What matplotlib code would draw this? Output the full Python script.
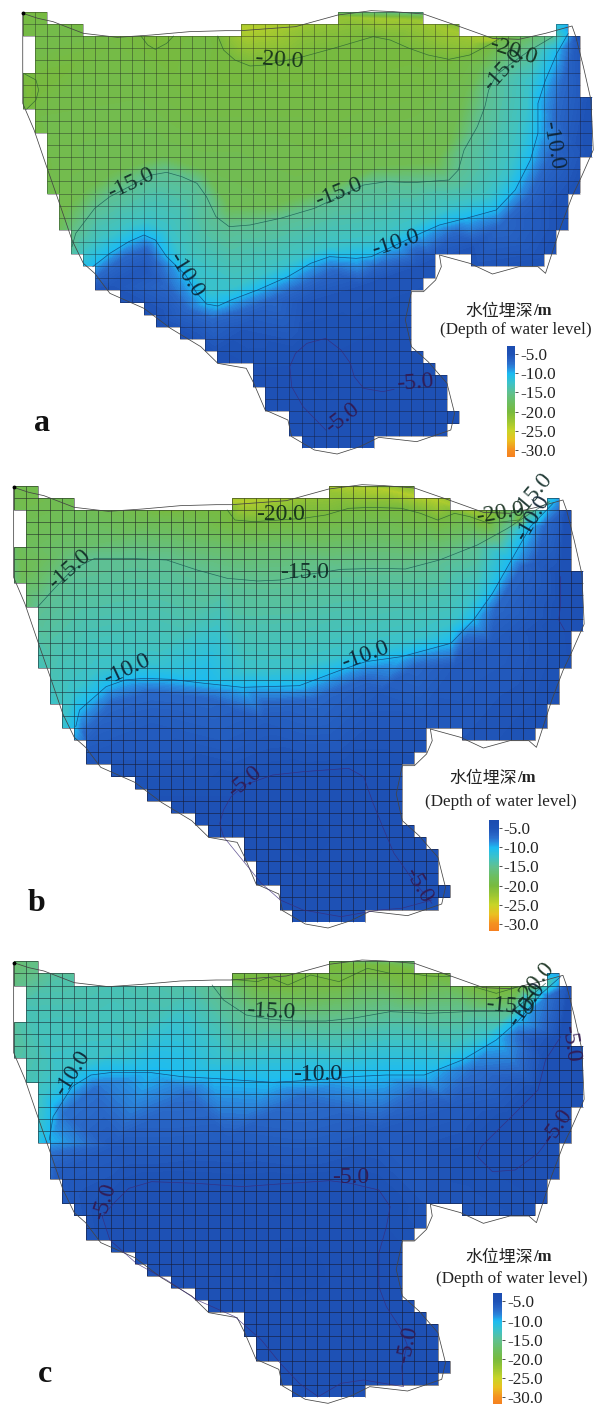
import numpy as np
import matplotlib
matplotlib.use('Agg')
import matplotlib.pyplot as plt
from matplotlib.collections import LineCollection
from matplotlib.colors import LinearSegmentedColormap, Normalize
from matplotlib.cm import ScalarMappable
from matplotlib.path import Path
from matplotlib.patches import PathPatch

SERIF = 'Liberation Serif'

# colour scale of depth
SCALE_VALUES = [-32, -30, -27.5, -25, -22.5, -20, -17.5, -15, -12.5, -10, -8.5, -7, -5, -3]
SCALE_COLORS = ['#f57f20', '#f59020', '#eac020', '#c8d428', '#9cc632', '#78ba3e', '#6cbe62',
                '#60c090', '#3cc2c8', '#1cbcf2', '#2a8ade', '#2a68c8', '#1e52b6', '#1c4cb0']
BAR_TICKS = [-5, -10, -15, -20, -25, -30]
BAR_LABELS = ['-5.0', '-10.0', '-15.0', '-20.0', '-25.0', '-30.0']

# model cells: (first column, end column) per row
ROW_SPANS = [[(0, 2), (26, 33)], [(0, 5), (18, 36), (44, 45)], [(1, 46)], [(1, 46)], [(1, 46)],
             [(0, 46)], [(0, 46)], [(0, 47)], [(1, 47)], [(1, 47)], [(2, 47)], [(2, 47)],
             [(2, 46)], [(2, 46)], [(2, 46)], [(3, 45)], [(3, 45)], [(3, 45)], [(4, 44)], [(4, 44)],
             [(5, 34), (37, 43)], [(6, 34)], [(6, 33)], [(8, 32)], [(10, 32)], [(11, 32)],
             [(13, 32)], [(15, 32)], [(16, 33)], [(19, 34)], [(19, 35)], [(20, 35)], [(20, 35)],
             [(22, 36)], [(22, 35)], [(23, 29)]]

# basin outline
OUTLINE = [(60, 40), (100, 55), (140, 65), (220, 100), (310, 112), (400, 105), (500, 95), (595, 92),
           (636, 92), (780, 80), (892, 45), (980, 32), (1040, 35), (1118, 42), (1214, 80), (1300, 115),
           (1370, 118), (1440, 100), (1510, 78), (1520, 110), (1540, 200), (1560, 300), (1566, 450),
           (1535, 530), (1510, 590), (1480, 680), (1440, 820), (1420, 800), (1370, 800), (1300, 822),
           (1240, 790), (1160, 765), (1165, 800), (1150, 840), (1118, 875), (1086, 875), (1070, 960),
           (1086, 1040), (1130, 1085), (1180, 1150), (1200, 1240), (1190, 1290), (1100, 1325),
           (1000, 1312), (950, 1340), (890, 1362), (830, 1350), (770, 1310), (760, 1260), (700, 1230),
           (670, 1150), (650, 1105), (575, 1090), (530, 1040), (450, 985), (380, 925), (290, 880),
           (250, 820), (220, 790), (190, 720), (160, 620), (120, 490), (90, 390), (60, 310), (60, 220)]

# panel a: contours
A_CONTOURS = [
    (-20, [(575, 108), (590, 150), (620, 180), (660, 198), (700, 195), (800, 170), (880, 145), (940, 125),
           (985, 110), (1030, 120), (1080, 145), (1130, 165), (1185, 178), (1240, 165), (1290, 135), (1320, 115)]),
    (-20, [(372, 108), (390, 135), (410, 148), (440, 130), (458, 108)]),
    (-20, [(62, 220), (95, 240), (102, 270), (95, 300), (70, 328)]),
    (-15, [(190, 740), (200, 700), (250, 625), (290, 590), (400, 525), (440, 517), (480, 530), (520, 550),
           (545, 590), (570, 650), (605, 680), (660, 675), (740, 655), (830, 625), (895, 590), (960, 555),
           (1020, 545), (1090, 548), (1185, 540), (1210, 510), (1225, 450), (1260, 380), (1280, 320),
           (1290, 270), (1310, 225), (1350, 190), (1400, 150), (1460, 110)]),
    (-10, [(245, 800), (290, 760), (340, 725), (380, 705), (410, 720), (440, 770), (490, 825), (520, 880),
           (545, 912), (575, 918), (610, 900), (680, 870), (760, 830), (820, 790), (870, 770), (940, 775),
           (980, 770), (1045, 735), (1110, 700), (1160, 675), (1230, 655), (1310, 630), (1360, 570),
           (1400, 480), (1420, 400), (1420, 310), (1440, 240), (1470, 160), (1500, 100)]),
    (-5, [(1040, 1168), (1010, 1175), (960, 1165), (935, 1130), (925, 1090), (900, 1050), (860, 1015), (810, 1030),
          (780, 1060), (765, 1100), (770, 1160), (800, 1220), (860, 1290)]),
]
# panel a: unlabelled depths that shape the colour field
A_GUIDES = [
    (-7, [(260, 830), (330, 775), (385, 750), (410, 790), (440, 860), (490, 930), (560, 960), (640, 935),
          (720, 900), (800, 860), (880, 815), (1000, 800), (1100, 750), (1200, 700), (1320, 680), (1400, 590),
          (1450, 480), (1470, 350), (1490, 240), (1510, 130)]),
    (-5.5, [(300, 860), (380, 810), (430, 930), (520, 1000), (640, 990), (800, 910), (950, 860), (1100, 800),
            (1250, 740), (1450, 620), (1520, 430), (1540, 300), (1530, 120)]),
    (-12.5, [(225, 760), (270, 720), (340, 680), (390, 665), (440, 690), (490, 780), (555, 870), (620, 860),
             (720, 810), (800, 770), (870, 740), (1000, 720), (1100, 670), (1200, 620), (1290, 590), (1340, 520),
             (1370, 430), (1390, 330), (1400, 240), (1450, 140)]),
    (-18.5, [(160, 660), (230, 570), (300, 520), (430, 470), (540, 510), (610, 620), (740, 610), (850, 570),
             (1000, 500), (1150, 490), (1190, 420), (1230, 280), (1270, 200), (1320, 130)]),
]
A_SPOTS = [(650, 85, -24), (700, 90, -23.5), (800, 100, -21.5), (900, 50, -22), (1000, 55, -23), (1100, 60, -22.5),
           (1190, 90, -23), (1250, 130, -22), (1310, 118, -23.5), (90, 60, -19.5), (200, 100, -19), (300, 130, -19.5),
           (400, 125, -20.5), (530, 125, -19.5), (70, 270, -20.5), (110, 150, -19), (110, 350, -19), (140, 500, -19),
           (170, 630, -19), (500, 300, -19.5), (900, 300, -19.5), (1100, 350, -19), (1470, 85, -12), (1500, 88, -9),
           (1530, 115, -4.5), (1560, 310, -5), (1560, 450, -5), (1530, 570, -4.8), (1495, 680, -5), (1440, 790, -5),
           (1260, 790, -5.5), (1140, 780, -5.5), (1090, 1000, -4.8), (1200, 1260, -4.8), (800, 1340, -4.8),
           (260, 865, -5.5), (420, 970, -5), (570, 1080, -4.8), (680, 1150, -4.8), (1000, 1150, -4.5), (850, 1150, -4.2),
           (30, 20, -20), (1568, 20, -5), (1568, 1360, -5), (30, 1360, -5)]
A_LABELS = [('-20.0', 735, 180, -4), ('-15.0', 345, 550, 25), ('-15.0', 895, 578, 22), ('-20.0', 1355, 155, -18),
            ('-15.0', 1330, 210, 48), ('-10.0', 1460, 435, -80), ('-10.0', 490, 825, -58), ('-10.0', 1045, 730, 18),
            ('-5.0', 1095, 1150, 5), ('-5.0', 905, 1255, 38)]

# panel b
B_CONTOURS = [
    (-20, [(600, 120), (620, 150), (670, 155), (740, 150), (800, 145), (860, 135), (920, 115), (980, 112),
           (1060, 115), (1110, 130), (1155, 150), (1200, 130), (1240, 140), (1290, 160), (1370, 150), (1400, 110)]),
    (-15, [(100, 410), (140, 360), (190, 300), (250, 265), (340, 265), (440, 270), (520, 300), (600, 325), (680, 333),
           (740, 330), (805, 315), (900, 298), (1000, 295), (1070, 297), (1160, 270), (1260, 225), (1340, 175),
           (1400, 130), (1450, 95)]),
    (-10, [(200, 770), (210, 720), (280, 650), (330, 630), (380, 625), (450, 628), (540, 640), (640, 652), (790, 647),
           (900, 600), (965, 575), (1060, 560), (1190, 520), (1250, 450), (1300, 370), (1350, 270), (1400, 170), (1460, 100)]),
    (-5, [(1140, 1300), (1090, 1230), (1040, 1150), (1010, 1070), (985, 1000), (960, 920), (920, 895), (800, 905), (720, 915),
          (645, 945), (610, 980), (590, 1020), (580, 1060), (590, 1100), (640, 1170), (690, 1240), (740, 1290),
          (800, 1320), (900, 1340), (1000, 1320), (1060, 1315), (1140, 1290)]),
    (-5, [(1480, 320), (1480, 400), (1475, 450), (1490, 480)]),
]
B_GUIDES = [
    (-7, [(225, 790), (300, 700), (400, 670), (540, 685), (700, 700), (830, 690), (960, 630), (1100, 590), (1230, 510),
          (1310, 420), (1380, 290), (1440, 170)]),
    (-6, [(240, 830), (400, 760), (700, 760), (1000, 670), (1200, 590), (1300, 520), (1420, 280), (1480, 140)]),
    (-12.5, [(170, 750), (195, 660), (260, 600), (400, 575), (650, 600), (800, 590), (950, 540), (1100, 505), (1190, 460),
             (1260, 370), (1330, 240), (1390, 150)]),
    (-17, [(100, 340), (170, 240), (300, 215), (450, 210), (620, 240), (750, 230), (1000, 220), (1250, 190), (1360, 120)]),
]
B_SPOTS = [(640, 95, -24), (1000, 55, -24), (880, 70, -22), (1150, 90, -24), (780, 110, -21), (1280, 140, -22),
           (60, 80, -19), (180, 110, -18.5), (400, 135, -19), (60, 300, -18.5), (60, 240, -18), (1450, 90, -11),
           (1500, 130, -4.5), (1530, 400, -5), (1500, 580, -5), (1440, 770, -5), (1230, 800, -5.5), (1120, 780, -5.5),
           (1060, 1000, -4.8), (1180, 1260, -4.8), (800, 1345, -4.8), (235, 870, -5.5), (400, 980, -5), (550, 1090, -4.8),
           (800, 1100, -4.3), (30, 20, -19), (1568, 20, -5), (1568, 1370, -5), (30, 1370, -5)]
B_LABELS = [('-20.0', 740, 135, 0), ('-20.0', 1320, 130, 10), ('-15.0', 1405, 75, 50), ('-10.0', 1405, 145, 60),
            ('-15.0', 185, 300, 42), ('-15.0', 805, 308, 0), ('-10.0', 335, 600, 25), ('-10.0', 965, 555, 20),
            ('-5.0', 645, 935, 40), ('-5.0', 1105, 1245, -60)]

# panel c
C_CONTOURS = [
    (-20, [(612, 118), (680, 125), (710, 112), (760, 135), (820, 105), (895, 125), (970, 85), (1030, 100), (1080, 100),
           (1130, 108), (1190, 110)]),
    (-20, [(1250, 140), (1310, 160), (1370, 140)]),
    (-15, [(560, 135), (590, 180), (650, 225), (715, 238), (780, 243), (860, 243), (930, 235), (1030, 215), (1130, 220),
           (1230, 215), (1350, 215), (1400, 170), (1440, 130)]),
    (-10, [(130, 600), (140, 530), (190, 440), (240, 405), (290, 398), (400, 398), (480, 410), (560, 415), (720, 427),
           (835, 420), (930, 410), (1020, 405), (1120, 405), (1220, 360), (1310, 300), (1370, 240), (1430, 160), (1480, 110)]),
    (-5, [(270, 830), (300, 790), (340, 745), (400, 725), (520, 730), (640, 740), (760, 730), (870, 722), (925, 730),
          (1000, 750), (1030, 800), (1020, 860), (1000, 940), (1000, 1040), (1020, 1100), (1060, 1170), (1075, 1215),
          (1060, 1280), (1065, 1340), (960, 1320), (900, 1330), (840, 1370), (790, 1330), (740, 1270), (690, 1200),
          (620, 1130), (520, 1080), (440, 1020), (360, 970), (290, 900), (270, 830)]),
    (-5, [(1480, 290), (1440, 360), (1420, 450), (1350, 530), (1270, 620), (1260, 650), (1300, 695), (1360, 690),
          (1420, 640), (1460, 580)]),
]
C_GUIDES = [
    (-7.5, [(135, 640), (170, 520), (250, 445), (500, 460), (800, 470), (1100, 450), (1250, 390), (1370, 280), (1450, 170)]),
    (-6, [(150, 700), (300, 620), (600, 600), (1000, 570), (1200, 500), (1400, 300), (1490, 150)]),
    (-12.5, [(100, 560), (110, 470), (160, 390), (300, 340), (600, 350), (900, 340), (1200, 320), (1290, 280), (1390, 170)]),
]
C_SPOTS = [(36, 300, -14.5), (36, 70, -17), (150, 120, -14), (300, 135, -13.5), (500, 140, -14), (70, 200, -13.5),
           (70, 420, -13.5), (612, 135, -17), (900, 100, -19), (1000, 75, -20), (1150, 120, -19), (1300, 150, -20),
           (800, 180, -18), (1100, 170, -18), (1440, 110, -10.5), (1475, 105, -9.5), (1510, 140, -4.5), (1540, 400, -5),
           (1510, 600, -5), (1440, 790, -5), (1220, 825, -5.5), (1125, 800, -5.5), (1060, 1000, -4.8), (1190, 1290, -4.8),
           (800, 1370, -4.8), (230, 890, -5.5), (400, 1000, -5), (550, 1110, -4.8), (800, 1000, -4.3),
           (30, 30, -17), (1568, 30, -5), (1568, 1395, -5), (30, 1395, -5)]
C_LABELS = [('-15.0', 715, 215, -3), ('-15.0', 1345, 200, -5), ('-10.0', 1390, 195, 55), ('-20.0', 1410, 130, 50),
            ('-10.0', 190, 400, 58), ('-10.0', 838, 405, 0), ('-5.0', 925, 712, 0), ('-5.0', 275, 785, 72),
            ('-5.0', 1075, 1215, 78), ('-5.0', 1505, 310, -82), ('-5.0', 1470, 560, 55)]

CONTOUR_COLORS = {-5: '#3a2a78', -10: '#0f3a6c', -15: '#17554c', -20: '#2a6030'}
LABEL_COLORS = {'-5.0': '#33184e', '-10.0': '#0c2030', '-15.0': '#0e2a24', '-20.0': '#102a18'}

cell_w, cell_h = 32.0, 36.3
cmap = LinearSegmentedColormap.from_list(
    'depth', [((v + 32) / 29.0, c) for v, c in zip(SCALE_VALUES, SCALE_COLORS)])
norm = Normalize(-32, -3)


def cell_clip(ax, x0, y0):
    verts, codes = [], []
    for r, spans in enumerate(ROW_SPANS):
        for c0, c1 in spans:
            xa, xb = x0 + c0 * cell_w, x0 + c1 * cell_w
            ya, yb = y0 + r * cell_h, y0 + (r + 1) * cell_h + 0.5
            verts += [(xa, ya), (xb, ya), (xb, yb), (xa, yb), (xa, ya)]
            codes += [Path.MOVETO, Path.LINETO, Path.LINETO, Path.LINETO, Path.CLOSEPOLY]
    patch = PathPatch(Path(verts, codes), facecolor='none', edgecolor='none')
    ax.add_patch(patch)
    return patch


def grid_segments(x0, y0):
    have = np.zeros((len(ROW_SPANS) + 2, 49), dtype=bool)
    for r, spans in enumerate(ROW_SPANS):
        for c0, c1 in spans:
            have[r + 1, c0 + 1:c1 + 1] = True
    segs = []
    for r in range(have.shape[0] - 1):
        for c in range(have.shape[1] - 1):
            xa, ya = x0 + (c - 1) * cell_w, y0 + (r - 1) * cell_h
            if have[r, c] or have[r - 1, c]:
                segs.append([(xa, ya), (xa + cell_w, ya)])
            if have[r, c] or have[r, c - 1]:
                segs.append([(xa, ya), (xa, ya + cell_h)])
    return segs


def draw_panel(top, height, origin, contours, guides, spots, labels, letter, letter_pos, bar, grid_alpha):
    ax = fig.add_axes([0, 1 - (top + height) / 1407.0, 1, height / 1407.0])
    ax.set_xlim(0, 1568)
    ax.set_ylim(height * 3, 0)
    ax.axis('off')
    x0, y0 = origin

    xs, ys, vs = [], [], []
    for level, pts in contours + guides:
        for x, y in pts:
            xs.append(x)
            ys.append(y)
            vs.append(level)
    for x, y, v in spots:
        xs.append(x)
        ys.append(y)
        vs.append(v)
    # drop repeats (closed contours), triangulation does not like them
    uniq = {}
    for x, y, v in zip(xs, ys, vs):
        uniq[(x, y)] = v
    xs = np.array([k[0] for k in uniq], dtype=float)
    ys = np.array([k[1] for k in uniq], dtype=float)
    vs = np.array(list(uniq.values()), dtype=float)

    clip = cell_clip(ax, x0, y0)
    cs = ax.tricontourf(xs, ys, vs, levels=np.linspace(-32, -3, 117), cmap=cmap, norm=norm, antialiased=False)
    cs.set_clip_path(clip)

    ax.add_collection(LineCollection(grid_segments(x0, y0), colors='#14101c', linewidths=0.6, alpha=grid_alpha))

    dx, dy = x0 - 60, y0 - 36
    ox = [p[0] + dx for p in OUTLINE] + [OUTLINE[0][0] + dx]
    oy = [p[1] + dy for p in OUTLINE] + [OUTLINE[0][1] + dy]
    ax.plot(ox, oy, color='#444444', lw=0.55)
    ax.plot([ox[0]], [oy[0]], 'o', color='k', ms=1.8)

    for level, pts in contours:
        ax.plot([p[0] for p in pts], [p[1] for p in pts], color=CONTOUR_COLORS[level], lw=0.5, alpha=0.8)
    for txt, x, y, rot in labels:
        ax.text(x, y, txt, rotation=rot, rotation_mode='anchor', ha='center', va='center',
                family=SERIF, fontsize=17, color=LABEL_COLORS[txt], alpha=0.9)

    ax.text(letter_pos[0], letter_pos[1], letter, family=SERIF, fontweight='bold', fontsize=23,
            ha='center', va='center', color='#111111')

    # legend
    bx0, bx1, by0, by1, tx, ty, sx, sy = bar
    ax.text(tx, ty, '/m', family=SERIF, fontweight='bold', fontsize=12, ha='left', va='center', color='#222222')
    ax.text(tx, ty, '水位埋深', family='Noto Sans CJK SC', fontsize=12.2, ha='right', va='center', color='#222222')
    ax.text(sx, sy, '(Depth of water level)', family=SERIF, fontsize=12.3, ha='center', va='center', color='#222222')
    pos = ax.get_position()
    h_frac = pos.height / (height * 3)
    cax = fig.add_axes([bx0 / 1568.0, pos.y1 - by1 * h_frac, (bx1 - bx0) / 1568.0, (by1 - by0) * h_frac])
    cb = fig.colorbar(ScalarMappable(norm=Normalize(-31.7, -2.9), cmap=LinearSegmentedColormap.from_list(
        'bar', cmap(np.linspace((-31.7 + 32) / 29, (-2.9 + 32) / 29.0, 256)))), cax=cax)
    cb.outline.set_visible(False)
    cb.set_ticks(BAR_TICKS, labels=BAR_LABELS)
    cb.ax.tick_params(length=2, width=0.6, pad=1.5, color='#333333')
    for t in cb.ax.get_yticklabels():
        t.set_fontfamily(SERIF)
        t.set_fontsize(12.3)
        t.set_color('#222222')


fig = plt.figure(figsize=(5.94, 14.07), dpi=100, facecolor='w')
draw_panel(0, 470, (60, 36), A_CONTOURS, A_GUIDES, A_SPOTS, A_LABELS, 'a', (110, 1270),
           (1338, 1360, 1038, 1370, 1408, 932, 1362, 990), 0.42)
draw_panel(470, 470, (36, 48), B_CONTOURS, B_GUIDES, B_SPOTS, B_LABELS, 'b', (97, 1300),
           (1292, 1316, 1050, 1382, 1365, 925, 1322, 997), 0.58)
draw_panel(940, 467, (36, 64), C_CONTOURS, C_GUIDES, C_SPOTS, C_LABELS, 'c', (118, 1305),
           (1302, 1326, 1060, 1392, 1408, 950, 1352, 1016), 0.58)
fig.savefig('out.png', dpi=100)
plt.close()
